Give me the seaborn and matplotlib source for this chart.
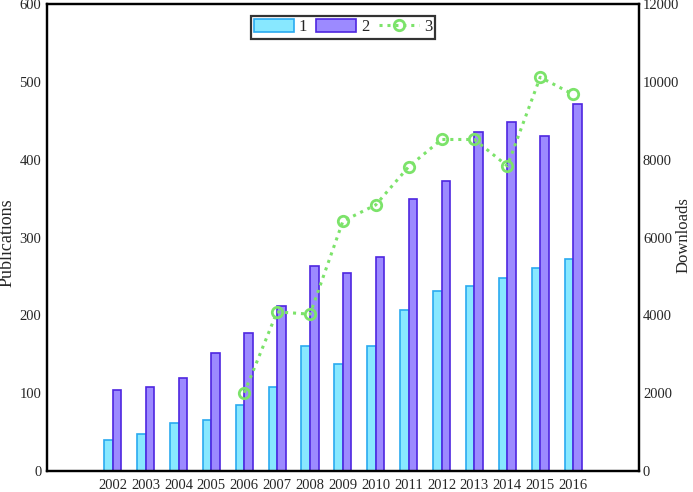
import numpy as np
import pandas as pd
import matplotlib
matplotlib.use("Agg")
import matplotlib.pyplot as plt
import seaborn as sns
from matplotlib.patches import Patch
from matplotlib.lines import Line2D

years = ["2002", "2003", "2004", "2005", "2006", "2007", "2008", "2009",
         "2010", "2011", "2012", "2013", "2014", "2015", "2016"]
series1 = [40, 48, 62, 66, 85, 108, 161, 138, 161, 207, 231, 238, 248, 261, 273]
series2 = [104, 108, 119, 152, 177, 212, 264, 254, 275, 350, 373, 435, 449, 431, 472]
dl_years = ["2006", "2007", "2008", "2009", "2010", "2011", "2012", "2013",
            "2014", "2015", "2016"]
downloads = [2010, 4090, 4030, 6420, 6840, 7820, 8520, 8520, 7840, 10120, 9680]
legend_labels = ["1", "2", "3"]

sns.set_style("white")
plt.rcParams["font.family"] = ["Liberation Serif", "DejaVu Serif"]

c1_face, c1_edge = "#88E8FF", "#2AAAF0"
c2_face, c2_edge = "#9C8AFF", "#4E26E0"
c3 = "#7CE36A"

df = pd.DataFrame({
    "year": years * 2,
    "value": series1 + series2,
    "series": [legend_labels[0]] * len(years) + [legend_labels[1]] * len(years),
})

fig = plt.figure(figsize=(6.93, 4.92), dpi=100)
ax = fig.add_axes([0.0678, 0.0427, 0.854, 0.949])

sns.barplot(data=df, x="year", y="value", hue="series", order=years,
            hue_order=legend_labels[:2], palette=[c1_face, c2_face],
            width=0.52, gap=0, legend=False, ax=ax, saturation=1,
            linewidth=1.2)
for i, p in enumerate(ax.patches):
    p.set_edgecolor(c1_edge if i < len(years) else c2_edge)

ax.set_ylim(0, 600)
ax.set_xlim(-2, 16)
ax.set_yticks(np.arange(0, 601, 100))
ax.set_xlabel("")
ax.set_ylabel("Publications", fontsize=13)
ax.yaxis.set_label_coords(-0.053, 0.49)
ax.tick_params(axis="y", length=0, labelsize=10.5, pad=4)
ax.tick_params(axis="x", length=0, labelsize=10.5, pad=6)

ax2 = ax.twinx()
xpos = [years.index(y) for y in dl_years]
dl_df = pd.DataFrame({"x": xpos, "downloads": downloads})
sns.lineplot(data=dl_df, x="x", y="downloads", ax=ax2, color=c3,
             linestyle=(0, (1, 1.6)), linewidth=2.2, marker="o",
             markersize=7.5, markerfacecolor="none", markeredgecolor=c3,
             markeredgewidth=2)
ax2.set_ylim(0, 12000)
ax2.set_yticks(np.arange(0, 12001, 2000))
ax2.set_xlim(-2, 16)
ax2.set_ylabel("Downloads", fontsize=12)
ax2.yaxis.set_label_coords(1.062, 0.505)
ax2.set_xlabel("")
ax2.tick_params(axis="y", length=0, labelsize=10.5, pad=3)
ax2.tick_params(axis="x", length=0)

for a in (ax, ax2):
    for s in a.spines.values():
        s.set_visible(True)
        s.set_color("black")
        s.set_linewidth(1.6)

handles = [
    Patch(facecolor=c1_face, edgecolor=c1_edge, linewidth=1.2),
    Patch(facecolor=c2_face, edgecolor=c2_edge, linewidth=1.2),
    Line2D([], [], color=c3, linestyle=(0, (1, 1.6)), linewidth=2.2,
           marker="o", markersize=7.5, markerfacecolor="none",
           markeredgecolor=c3, markeredgewidth=2),
]
leg = ax2.legend(handles, legend_labels, ncol=3, loc="upper center",
                 bbox_to_anchor=(0.495, 0.968), bbox_transform=fig.transFigure,
                 frameon=True, fancybox=False, fontsize=12,
                 handlelength=2.4, handleheight=0.8, handletextpad=0.3,
                 columnspacing=0.55, borderpad=0.2, borderaxespad=0)
leg.get_frame().set_edgecolor("black")
leg.get_frame().set_linewidth(1.6)

fig.savefig("out.png", dpi=100)
